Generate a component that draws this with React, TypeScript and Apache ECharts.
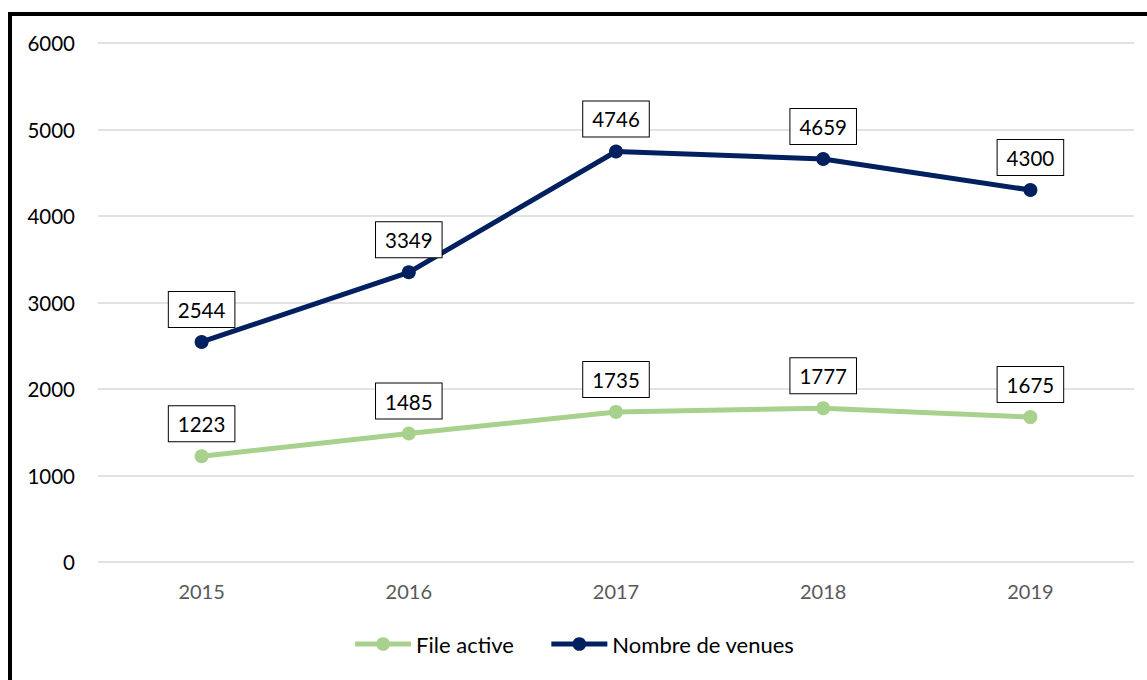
import React, { useEffect, useRef } from "react";
import * as echarts from "echarts";

const categories = ["2015", "2016", "2017", "2018", "2019"];
const fileActive = [1223, 1485, 1735, 1777, 1675];
const nombreVenues = [2544, 3349, 4746, 4659, 4300];
const yTicks = { min: 0, max: 6000, interval: 1000 };

const FONT = "Lato, 'Open Sans', sans-serif";

export default function App() {
  const ref = useRef<HTMLDivElement>(null);
  useEffect(() => {
    if (!ref.current) return;
    const chart = echarts.init(ref.current, undefined, { renderer: "svg" });
    const label = {
      show: true,
      position: "top" as const,
      distance: 8,
      color: "#000",
      fontSize: 20.5,
      lineHeight: 24,
      fontFamily: FONT,
      backgroundColor: "#fff",
      borderColor: "#000",
      borderWidth: 1,
      padding: [6, 9, 5, 9],
    };
    chart.setOption({
      animation: false,
      textStyle: { fontFamily: FONT },
      grid: { left: 98, right: 13, top: 43, bottom: 118, containLabel: false },
      legend: {
        bottom: 20,
        left: "center",
        itemWidth: 56,
        itemHeight: 17,
        itemGap: 35,
        lineStyle: { width: 5 },
        textStyle: { fontSize: 22, color: "#000", fontFamily: FONT },
        data: ["File active", "Nombre de venues"],
      },
      xAxis: {
        type: "category",
        data: categories,
        boundaryGap: true,
        axisLine: { show: false },
        axisTick: { show: false },
        axisLabel: { color: "#595959", fontSize: 20, margin: 19, fontFamily: FONT },
      },
      yAxis: {
        type: "value",
        min: yTicks.min,
        max: yTicks.max,
        interval: yTicks.interval,
        axisLine: { show: false },
        axisTick: { show: false },
        axisLabel: {
          color: "#000",
          fontSize: 20.5,
          margin: 23,
          fontFamily: FONT,
          formatter: (v: number) => String(v),
        },
        splitLine: { lineStyle: { color: "#d9d9d9", width: 1.5 } },
      },
      series: [
        {
          name: "File active",
          type: "line",
          data: fileActive,
          symbol: "circle",
          symbolSize: 14,
          lineStyle: { color: "#A9D18E", width: 5 },
          itemStyle: { color: "#A9D18E" },
          label,
        },
        {
          name: "Nombre de venues",
          type: "line",
          data: nombreVenues,
          symbol: "circle",
          symbolSize: 14,
          lineStyle: { color: "#002060", width: 5 },
          itemStyle: { color: "#002060" },
          label,
        },
      ],
    });
    return () => chart.dispose();
  }, []);
  return (
    <div style={{ position: "fixed", left: 0, top: 0, width: 1147, height: 680, overflow: "hidden", background: "#fff" }}>
      <div
        style={{
          position: "absolute",
          left: 8,
          top: 12,
          width: 1200,
          height: 700,
          borderLeft: "4px solid #000",
          borderTop: "4px solid #000",
        }}
      />
      <div ref={ref} style={{ position: "absolute", left: 0, top: 0, width: 1147, height: 680 }} />
    </div>
  );
}
